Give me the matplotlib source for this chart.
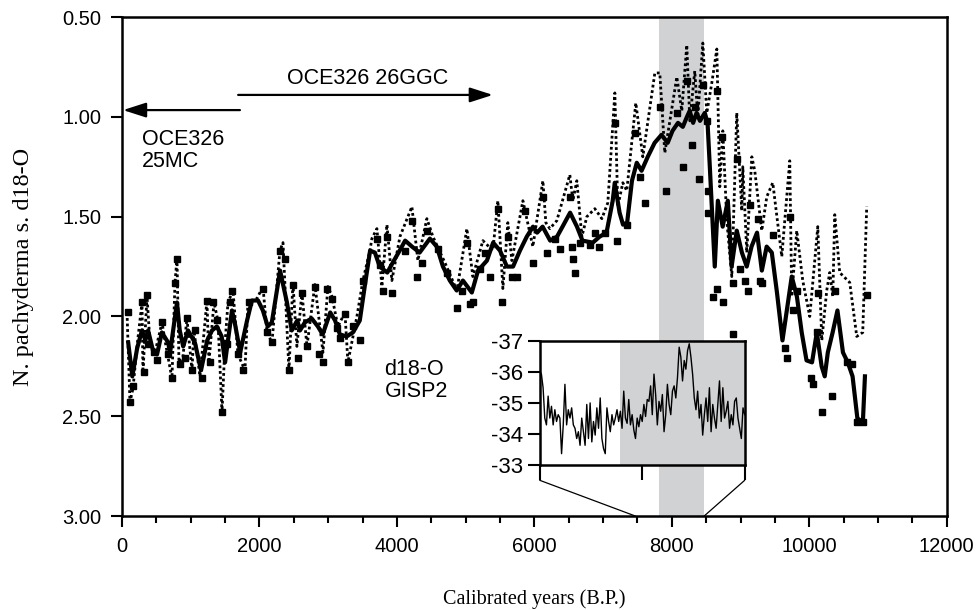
import numpy as np
import matplotlib
matplotlib.use("Agg")
import matplotlib.pyplot as plt
from matplotlib.patches import ConnectionPatch

# smoothed record (thick line)
smooth_age = [90, 150, 220, 290, 340, 380, 450, 510, 580, 670, 700, 800, 840, 890, 960,
              1060, 1150, 1240, 1310, 1380, 1450, 1500, 1600, 1640, 1720, 1820, 1890, 1980,
              2050, 2120, 2180, 2300, 2400, 2470, 2550, 2590, 2660, 2760, 2850, 2920, 3030,
              3100, 3170, 3270, 3360, 3460, 3540, 3610, 3680, 3750, 3860, 3940, 4040, 4120,
              4220, 4330, 4480, 4580, 4670, 4770, 4870, 4960, 5090, 5180, 5310, 5400, 5500,
              5600, 5690, 5790, 5890, 5980, 6040, 6120, 6230, 6330, 6410, 6520, 6620, 6700,
              6850, 6950, 7050, 7140, 7170, 7240, 7290, 7350, 7420, 7490, 7560, 7650, 7750,
              7850, 7940, 8010, 8090, 8160, 8220, 8260, 8310, 8360, 8410, 8480, 8520, 8553,
              8625, 8670, 8740, 8815, 8870, 8945, 9020, 9090, 9160, 9240, 9310, 9380, 9455,
              9530, 9610, 9690, 9745, 9820, 9890, 9960, 10040, 10110, 10180, 10225, 10270,
              10340, 10410, 10490, 10560, 10630, 10700, 10780, 10810]
smooth_d18o = [2.13, 2.30, 2.16, 2.07, 2.12, 2.07, 2.17, 2.19, 2.08, 2.13, 2.18, 1.93, 2.07, 2.15, 2.07,
               2.13, 2.27, 2.12, 2.07, 2.05, 2.10, 2.23, 1.97, 2.03, 2.18, 2.02, 1.92, 1.92,
               1.97, 2.05, 2.03, 1.77, 1.93, 2.07, 2.02, 2.07, 2.03, 2.01, 2.05, 2.09, 1.98,
               2.02, 2.09, 2.10, 2.08, 2.02, 1.83, 1.67, 1.68, 1.75, 1.78, 1.73, 1.67, 1.62,
               1.65, 1.68, 1.61, 1.65, 1.75, 1.82, 1.87, 1.82, 1.88, 1.77, 1.72, 1.63, 1.67,
               1.75, 1.75, 1.67, 1.60, 1.55, 1.58, 1.55, 1.62, 1.60, 1.55, 1.48, 1.55, 1.62,
               1.63, 1.60, 1.58, 1.42, 1.33, 1.48, 1.54, 1.53, 1.32, 1.23, 1.27, 1.20, 1.13,
               1.09, 1.13, 1.07, 1.03, 1.05, 1.00, 0.97, 1.03, 0.98, 1.02, 0.98, 1.03, 1.25,
               1.75, 1.42, 1.55, 1.42, 1.75, 1.57, 1.68, 1.75, 1.65, 1.58, 1.77, 1.65, 1.68,
               1.88, 2.12, 1.93, 1.80, 1.90, 2.08, 2.22, 2.23, 2.08, 2.25, 2.30, 2.18,
               2.08, 1.97, 2.18, 2.23, 2.30, 2.51, 2.53, 2.30]

# dotted record
dot_age = [73, 116, 160, 218, 291, 305, 364, 407, 480, 582, 625, 727, 771, 800, 829, 887, 945,
           1018, 1047, 1135, 1236, 1265, 1338, 1396, 1455, 1498, 1542, 1615, 1687, 1789, 1833,
           1964, 2051, 2109, 2182, 2298, 2342, 2429, 2487, 2545, 2618, 2691, 2807, 2924, 2996,
           3055, 3142, 3244, 3287, 3418, 3505, 3607, 3636, 3709, 3782, 3855, 3927, 4044, 4218,
           4305, 4436, 4524, 4698, 4873, 5018, 5105, 5251, 5396, 5469, 5542, 5614, 5673, 5833,
           5978, 6124, 6167, 6225, 6327, 6516, 6560, 6618, 6691, 6764, 6880, 6982, 7069, 7171,
           7214, 7287, 7345, 7476, 7578, 7753, 7825, 7898, 8073, 8145, 8218, 8262, 8334, 8378,
           8451, 8509, 8582, 8655, 8698, 8742, 8800, 8873, 8945, 9018, 9033, 9091, 9164, 9207,
           9309, 9382, 9469, 9600, 9716, 9745, 9818, 9905, 10007, 10124, 10182, 10254, 10298,
           10342, 10371, 10443, 10589, 10691, 10778, 10836]
dot_d18o = [1.98, 2.43, 2.36, 2.15, 1.93, 2.28, 1.90, 2.13, 2.18, 2.03, 2.12, 2.31, 1.83, 1.71, 2.23, 2.20, 2.01,
            2.27, 2.07, 2.30, 1.92, 2.23, 1.93, 2.02, 2.48, 2.14, 1.93, 1.87, 2.19, 2.27, 1.93,
            1.91, 1.85, 2.08, 2.13, 1.67, 1.63, 2.27, 1.83, 2.15, 1.88, 2.15, 1.84, 2.18, 1.85,
            1.90, 2.05, 1.98, 2.23, 2.00, 1.82, 1.67, 1.61, 1.56, 1.85, 1.54, 1.82, 1.60, 1.45,
            1.72, 1.51, 1.60, 1.73, 1.87, 1.56, 1.80, 1.62, 1.67, 1.42, 1.86, 1.53, 1.72, 1.42,
            1.65, 1.32, 1.53, 1.56, 1.52, 1.29, 1.42, 1.32, 1.60, 1.50, 1.46, 1.51, 1.43, 0.88,
            1.45, 1.33, 1.37, 0.93, 1.20, 0.78, 0.78, 1.18, 0.80, 0.97, 0.64, 1.02, 0.77, 1.00,
            0.63, 0.98, 0.83, 0.66, 1.35, 1.07, 1.52, 1.80, 0.98, 1.47, 1.25, 1.68, 1.20, 1.27,
            1.57, 1.40, 1.33, 1.70, 1.22, 1.90, 1.57, 1.82, 2.00, 1.55, 2.12, 1.87, 1.78,
            1.90, 1.49, 1.78, 1.83, 2.10, 2.08, 1.45]

# individual measurements (squares)
sq_age = [87, 116, 160, 291, 320, 364, 378, 465, 509, 582, 669, 727, 771, 800, 844, 916, 945,
          1018, 1062, 1164, 1236, 1280, 1324, 1382, 1455, 1527, 1571, 1600, 1687, 1760, 1847,
          2051, 2109, 2182, 2298, 2371, 2429, 2487, 2560, 2618, 2691, 2807, 2865, 2924, 2982,
          3055, 3127, 3171, 3244, 3287, 3360, 3462, 3505, 3709, 3753, 3796, 3855, 3927, 4116,
          4218, 4291, 4364, 4436, 4596, 4727, 4873, 4945, 5018, 5062, 5105, 5207, 5280, 5353,
          5469, 5527, 5614, 5673, 5745, 5862, 5978, 6124, 6182, 6298, 6371, 6516, 6545, 6560,
          6589, 6662, 6807, 6880, 6938, 7025, 7171, 7200, 7345, 7462, 7534, 7607, 7825, 7913,
          8073, 8160, 8218, 8291, 8334, 8392, 8451, 8509, 8524, 8524, 8596, 8655, 8655, 8727,
          8742, 8887, 8887, 8945, 8989, 9062, 9105, 9134, 9251, 9280, 9309, 9469, 9643, 9673,
          9716, 9760, 9818, 10022, 10051, 10109, 10124, 10182, 10327, 10371, 10545, 10618,
          10691, 10778, 10836]
sq_d18o = [1.98, 2.43, 2.35, 1.93, 2.28, 1.89, 2.14, 2.18, 2.22, 2.03, 2.19, 2.31, 1.83, 1.71, 2.24, 2.21, 2.01,
           2.27, 2.07, 2.31, 1.92, 2.23, 1.93, 2.02, 2.48, 2.14, 1.93, 1.87, 2.19, 2.27, 1.93,
           1.86, 2.08, 2.13, 1.67, 1.71, 2.27, 1.84, 2.21, 1.88, 2.15, 1.85, 2.19, 2.23, 1.86,
           1.91, 2.06, 2.11, 1.99, 2.23, 2.05, 2.12, 1.82, 1.61, 1.74, 1.87, 1.60, 1.88, 1.67,
           1.52, 1.80, 1.73, 1.57, 1.66, 1.78, 1.96, 1.87, 1.63, 1.94, 1.93, 1.76, 1.68, 1.80,
           1.46, 1.93, 1.60, 1.80, 1.80, 1.47, 1.73, 1.40, 1.68, 1.61, 1.66, 1.40, 1.65, 1.71,
           1.78, 1.63, 1.64, 1.58, 1.65, 1.58, 1.03, 1.62, 1.54, 1.08, 1.30, 1.43, 0.95, 1.37,
           0.98, 1.25, 0.82, 1.14, 0.95, 1.31, 0.84, 1.02, 1.37, 1.48, 1.90, 0.87, 1.86, 1.10,
           1.93, 1.83, 2.09, 1.21, 1.76, 1.82, 1.87, 1.44, 1.51, 1.82, 1.83, 1.59, 2.16, 2.21,
           1.50, 1.97, 1.87, 2.31, 2.34, 2.08, 1.88, 2.48, 2.40, 1.87, 2.23, 2.24,
           2.53, 2.53, 1.89]

# GISP2 d18-O (inset), evenly sampled between the two ages below
gisp_start, gisp_end = 7470, 8470
gisp_d18o = [-36.04, -35.93, -35.49, -34.51, -34.29, -35.22, -34.51, -34.89, -34.29, -34.78,
             -34.40, -34.62, -34.51, -33.36, -34.29, -35.60, -34.29, -34.78, -34.51, -34.84,
             -34.29, -34.18, -33.85, -34.07, -33.63, -34.51, -34.07, -33.63, -34.95, -33.85,
             -35.00, -33.74, -34.40, -33.96, -34.84, -34.18, -35.16, -33.85, -33.52, -33.36,
             -34.84, -34.40, -34.07, -34.62, -34.29, -34.51, -34.78, -34.40, -34.73, -34.18,
             -35.38, -34.51, -34.34, -35.11, -34.29, -34.62, -34.13, -33.85, -34.51, -34.23,
             -34.62, -34.40, -34.95, -34.56, -35.11, -35.05, -35.55, -34.62, -35.93, -35.27,
             -34.29, -35.05, -34.73, -35.27, -34.07, -34.62, -35.60, -34.95, -34.62, -35.38,
             -35.55, -35.16, -35.82, -36.80, -36.48, -35.71, -36.37, -36.09, -36.69, -36.91,
             -36.48, -35.93, -35.16, -34.78, -35.38, -34.51, -34.95, -33.96, -34.62, -35.16,
             -34.40, -35.49, -34.07, -34.95, -34.51, -34.18, -34.95, -35.71, -34.40, -35.49,
             -34.51, -34.73, -35.05, -34.18, -34.62, -34.29, -35.05, -35.16, -34.51, -34.18,
             -33.85, -34.84, -34.62]

# 8.2 ka event window
event_main = (7810, 8465)
event_inset = (7860, 8470)

sans = "Liberation Sans"
serif = "Liberation Serif"
fs = 14.5
gray = "#d1d2d4"

fig = plt.figure(figsize=(9.76, 6.10), dpi=100)
ax = fig.add_axes([0.125, 0.154, 0.845, 0.818])

ax.axvspan(*event_main, color=gray, lw=0, zorder=0)
ax.plot(dot_age, dot_d18o, color="black", lw=2.0, ls=(0, (1, 1.0)), zorder=2)
ax.plot(sq_age, sq_d18o, "s", color="black", ms=4.7, zorder=3)
ax.plot(smooth_age, smooth_d18o, color="black", lw=3.0, zorder=4)

ax.set_xlim(0, 12000)
ax.set_ylim(3.0, 0.5)
ax.set_xticks(np.arange(0, 12001, 2000))
ax.set_xticks(np.arange(0, 12001, 500), minor=True)
ax.set_yticks(np.arange(0.5, 3.01, 0.5))
ax.set_yticklabels(["%.2f" % v for v in np.arange(0.5, 3.01, 0.5)])
ax.tick_params(which="major", direction="out", length=8, width=1.5, labelsize=fs, pad=7)
ax.tick_params(which="minor", direction="out", length=5, width=1.5)
ax.tick_params(axis="y", which="minor", left=False)
for lab in ax.get_xticklabels() + ax.get_yticklabels():
    lab.set_fontfamily(sans)
for s in ax.spines.values():
    s.set_linewidth(1.8)

ax.set_xlabel("Calibrated years (B.P.)", fontsize=fs, fontfamily=serif, labelpad=24)
ax.set_ylabel("N. pachyderma s. d18-O", fontsize=17.5, fontfamily=serif, labelpad=20)

# core section arrows
arw = dict(arrowstyle="-|>,head_length=1.4,head_width=0.45", color="black", lw=1.6,
           shrinkA=0, shrinkB=0)
ax.annotate("", xy=(5396, 0.89), xytext=(1690, 0.89), arrowprops=arw)
ax.annotate("", xy=(15, 0.966), xytext=(1716, 0.966), arrowprops=arw)
ax.text(2400, 0.81, "OCE326 26GGC", fontsize=15.5, fontfamily=sans, va="center")
ax.text(290, 1.17, "OCE326\n25MC", fontsize=15.5, fontfamily=sans, va="center",
        linespacing=1.05)
ax.text(3820, 2.32, "d18-O\nGISP2", fontsize=15.5, fontfamily=sans, va="center",
        linespacing=1.05)

# inset
ins = fig.add_axes([0.553, 0.238, 0.210, 0.203])
ins.axvspan(*event_inset, color=gray, lw=0, zorder=0)
ins.plot(np.linspace(gisp_start, gisp_end, len(gisp_d18o)), gisp_d18o, color="black",
         lw=1.0)
ins.set_xlim(gisp_start, gisp_end)
ins.set_ylim(-33, -37)
ins.set_yticks([-37, -36, -35, -34, -33])
ins.set_yticklabels(["-37", "-36", "-35", "-34", "-33"])
ins.set_xticks([gisp_start, (gisp_start + gisp_end) / 2, gisp_end])
ins.set_xticklabels([])
ins.tick_params(axis="x", direction="out", length=11, width=1.5)
ins.tick_params(axis="y", direction="out", length=9, width=1.5, labelsize=16, pad=3)
for lab in ins.get_yticklabels():
    lab.set_fontfamily(sans)
for s in ins.spines.values():
    s.set_linewidth(1.8)

for xa, xb in [(0, gisp_start), (1, gisp_end)]:
    con = ConnectionPatch(xyA=(xa, -0.125), coordsA=ins.transAxes,
                          xyB=(xb, 3.0), coordsB=ax.transData, color="black", lw=0.9)
    fig.add_artist(con)

fig.savefig("out.png", dpi=100)
